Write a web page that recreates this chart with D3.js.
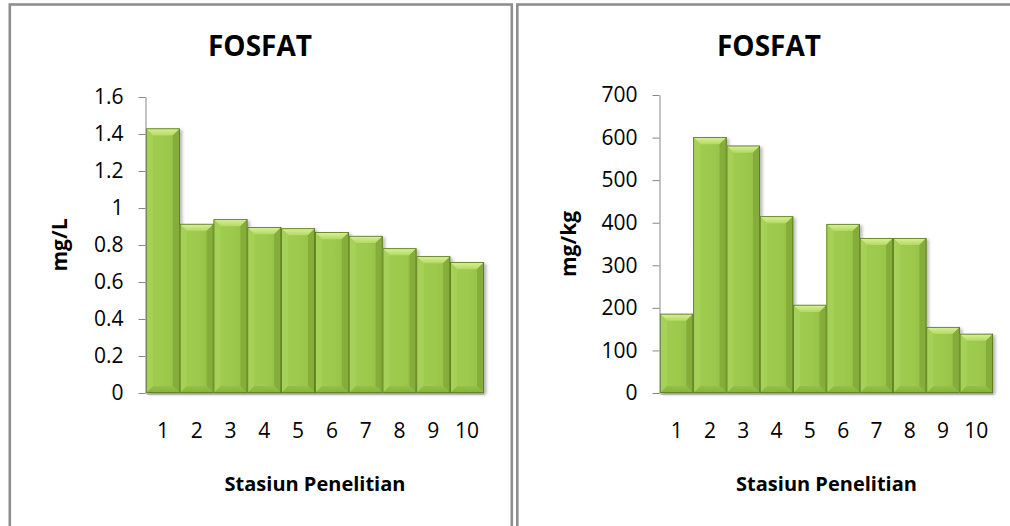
<!DOCTYPE html>
<html>
<head>
<meta charset="utf-8">
<script src="https://cdn.jsdelivr.net/npm/d3@7"></script>
<style>
  html, body { margin: 0; padding: 0; background: #fff; }
  svg { display: block; }
  text { font-family: "Open Sans", "DejaVu Sans", sans-serif; fill: #000; }
</style>
</head>
<body>
<svg id="chart" width="1010" height="526"></svg>
<script>
// ---- data ----
const stations = ["1","2","3","4","5","6","7","8","9","10"];
const fosfatWater = [1.43, 0.914, 0.939, 0.896, 0.890, 0.869, 0.849, 0.782, 0.739, 0.707];
const fosfatSediment = [186, 601, 581, 415, 207, 397, 364, 364, 155, 139];
const leftTicks = [0, 0.2, 0.4, 0.6, 0.8, 1, 1.2, 1.4, 1.6];
const leftTickLabels = ["0","0.2","0.4","0.6","0.8","1","1.2","1.4","1.6"];
const rightTicks = [0, 100, 200, 300, 400, 500, 600, 700];
const rightTickLabels = ["0","100","200","300","400","500","600","700"];
const titles = ["FOSFAT", "FOSFAT"];
const yTitles = ["mg/L", "mg/kg"];
const xTitle = "Stasiun Penelitian";

const svg = d3.select("#chart");
const defs = svg.append("defs");

const shadow = defs.append("filter").attr("id", "shadow")
  .attr("x", "-20%").attr("y", "-10%").attr("width", "150%").attr("height", "130%");
shadow.append("feDropShadow").attr("dx", 2.5).attr("dy", 1.5)
  .attr("stdDeviation", 1.6).attr("flood-color", "#000").attr("flood-opacity", 0.28);

const gMain = defs.append("linearGradient").attr("id", "gMain")
  .attr("x1", 0).attr("x2", 1).attr("y1", 0).attr("y2", 0);
gMain.append("stop").attr("offset", "0%").attr("stop-color", "#9fcd4f");
gMain.append("stop").attr("offset", "55%").attr("stop-color", "#9dca4d");
gMain.append("stop").attr("offset", "100%").attr("stop-color", "#93c045");

const gTop = defs.append("linearGradient").attr("id", "gTop")
  .attr("x1", 0).attr("x2", 0).attr("y1", 0).attr("y2", 1);
gTop.append("stop").attr("offset", "0%").attr("stop-color", "#d9f29a");
gTop.append("stop").attr("offset", "100%").attr("stop-color", "#b2d962");

const gBot = defs.append("linearGradient").attr("id", "gBot")
  .attr("x1", 0).attr("x2", 0).attr("y1", 0).attr("y2", 1);
gBot.append("stop").attr("offset", "0%").attr("stop-color", "#93c046");
gBot.append("stop").attr("offset", "100%").attr("stop-color", "#86b23c");

function panel(x) {
  svg.append("rect")
    .attr("x", x).attr("y", 4.5)
    .attr("width", 502).attr("height", 560)
    .attr("fill", "none")
    .attr("stroke", "#8e8e8e")
    .attr("stroke-width", 2.6);
}
panel(9.8);
panel(517.3);

function drawChart(cfg) {
  const g = svg.append("g");
  const x = d3.scaleBand().domain(stations).range([cfg.x0, cfg.x1]).padding(0);
  const y = d3.scaleLinear().domain([0, cfg.ticks[cfg.ticks.length - 1]]).range([cfg.yBottom, cfg.yTop]);

  const b = 7;
  const bars = g.append("g").selectAll("g.bar")
    .data(cfg.values.map((v, i) => ({ v, k: stations[i] })))
    .join("g").attr("class", "bar");

  bars.each(function (d) {
    const gg = d3.select(this);
    const x0 = x(d.k), x1 = x(d.k) + x.bandwidth();
    const y0 = y(d.v), y1 = y(0);
    const bb = Math.min(b, (x1 - x0) / 2, (y1 - y0) / 2);
    gg.append("rect").attr("x", x0).attr("y", y0)
      .attr("width", x1 - x0).attr("height", y1 - y0)
      .attr("fill", "url(#gMain)").attr("filter", "url(#shadow)");
    const pts = a => a.map(p => p.join(",")).join(" ");
    gg.append("polygon").attr("points", pts([[x0, y0], [x1, y0], [x1 - bb, y0 + bb], [x0 + bb, y0 + bb]]))
      .attr("fill", "url(#gTop)");
    gg.append("polygon").attr("points", pts([[x0, y0], [x0 + bb, y0 + bb], [x0 + bb, y1 - bb], [x0, y1]]))
      .attr("fill", "#a6d259").attr("opacity", 0.9);
    gg.append("polygon").attr("points", pts([[x1, y0], [x1 - bb, y0 + bb], [x1 - bb, y1 - bb], [x1, y1]]))
      .attr("fill", "#84ad3a");
    gg.append("polygon").attr("points", pts([[x0, y1], [x0 + bb, y1 - bb], [x1 - bb, y1 - bb], [x1, y1]]))
      .attr("fill", "url(#gBot)");
    gg.append("rect").attr("x", x0 + 0.35).attr("y", y0 + 0.35)
      .attr("width", x1 - x0 - 0.7).attr("height", y1 - y0 - 0.7)
      .attr("fill", "none").attr("stroke", "#56731c").attr("stroke-width", 0.8);
  });

  const yAxis = d3.axisLeft(y).tickValues(cfg.ticks)
    .tickFormat((d, i) => cfg.tickLabels[i]).tickSize(7).tickSizeOuter(0).tickPadding(15);
  const ya = g.append("g").attr("transform", `translate(${cfg.x0 - 0.5},0)`).call(yAxis);
  ya.select(".domain").attr("stroke", "#868686");
  ya.selectAll(".tick line").attr("stroke", "#868686");
  ya.selectAll(".tick text").style("font-size", "21px").style("font-family", "'Open Sans', sans-serif").attr("fill", "#000");

  const xAxis = d3.axisBottom(x).tickSize(0).tickSizeOuter(0).tickPadding(30);
  const xa = g.append("g").attr("transform", `translate(0,${cfg.yBottom + 0.5})`).call(xAxis);
  xa.select(".domain").attr("stroke", "#868686");
  xa.selectAll(".tick text").style("font-size", "21px").style("font-family", "'Open Sans', sans-serif").attr("fill", "#000");

  g.append("text").attr("x", cfg.titleX).attr("y", 56)
    .attr("text-anchor", "middle").style("font-size", "28px").style("font-weight", "bold")
    .text(cfg.title);
  g.append("text").attr("x", (cfg.x0 + cfg.x1) / 2).attr("y", 491)
    .attr("text-anchor", "middle").style("font-size", "20px").style("font-weight", "bold")
    .text(xTitle);
  g.append("text")
    .attr("transform", `translate(${cfg.yTitleX},${(cfg.yTop + cfg.yBottom) / 2}) rotate(-90)`)
    .attr("text-anchor", "middle").style("font-size", "21px").style("font-weight", "bold")
    .text(cfg.yTitle);
}

drawChart({
  values: fosfatWater, ticks: leftTicks, tickLabels: leftTickLabels,
  x0: 146, x1: 484, yTop: 97, yBottom: 393,
  title: titles[0], titleX: 260, yTitle: yTitles[0], yTitleX: 67
});
drawChart({
  values: fosfatSediment, ticks: rightTicks, tickLabels: rightTickLabels,
  x0: 660, x1: 993, yTop: 95, yBottom: 393,
  title: titles[1], titleX: 769, yTitle: yTitles[1], yTitleX: 576
});
</script>
</body>
</html>
